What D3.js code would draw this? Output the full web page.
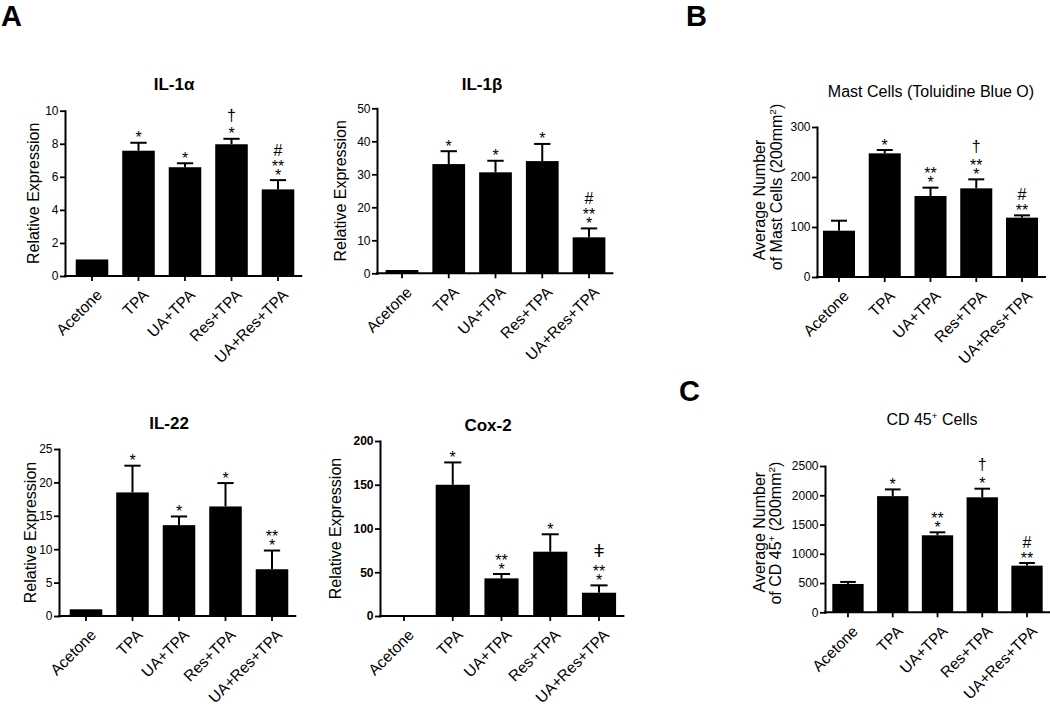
<!DOCTYPE html>
<html><head><meta charset="utf-8">
<script src="https://cdn.jsdelivr.net/npm/d3@7"></script>
<style>
body{margin:0;background:#fff}
svg{display:block}
text{font-family:"Liberation Sans",Arial,Helvetica,sans-serif;fill:#000}
</style>
</head><body>
<svg id="chart" width="1050" height="707"></svg>
<script>
// ---------- DATA ----------
const categories = ["Acetone", "TPA", "UA+TPA", "Res+TPA", "UA+Res+TPA"];

const il1aMean = [1.0, 7.58, 6.58, 7.97, 5.24];
const il1aSem  = [0, 0.48, 0.24, 0.33, 0.56];
const il1aSig  = [[], ["*"], ["*"], ["†", "*"], ["#", "**", "*"]];
const il1aTicks = [0, 2, 4, 6, 8, 10];

const il1bMean = [1.0, 33.1, 30.6, 34.0, 10.9];
const il1bSem  = [0, 3.9, 3.5, 5.2, 2.7];
const il1bSig  = [[], ["*"], ["*"], ["*"], ["#", "**", "*"]];
const il1bTicks = [0, 10, 20, 30, 40, 50];

const il22Mean = [1.0, 18.5, 13.6, 16.4, 7.0];
const il22Sem  = [0, 4.0, 1.3, 3.5, 2.8];
const il22Sig  = [[], ["*"], ["*"], ["*"], ["**", "*"]];
const il22Ticks = [0, 5, 10, 15, 20, 25];

const cox2Mean = [1.0, 150, 43, 73.5, 26.6];
const cox2Sem  = [0, 25.5, 5, 19.9, 8.4];
const cox2Sig  = [[], ["*"], ["**", "*"], ["*"], ["ǂ", "**", "*"]];
const cox2Ticks = [0, 50, 100, 150, 200];

const mastMean = [92.6, 247.3, 162, 177.3, 118.7];
const mastSem  = [20, 6.7, 16.7, 18, 4.6];
const mastSig  = [[], ["*"], ["**", "*"], ["†", "**", "*"], ["#", "**"]];
const mastTicks = [0, 100, 200, 300];

const cd45Mean = [484, 1985, 1316, 1965, 797];
const cd45Sem  = [35, 115, 51, 147, 45];
const cd45Sig  = [[], ["*"], ["**", "*"], ["†", "*"], ["#", "**"]];
const cd45Ticks = [0, 500, 1000, 1500, 2000, 2500];

// ---------- DRAW ----------
const svg = d3.select("#chart");

const symMetrics = {
  "*":  {size: 16, top: 0.716, bottom: 0.44},
  "**": {size: 16, top: 0.716, bottom: 0.44},
  "#":  {size: 16, top: 0.71, bottom: 0.0},
  "†":  {size: 16, top: 0.72, bottom: -0.19},
  "ǂ":  {size: 19, top: 0.73, bottom: -0.21}
};

function supText(sel, parts, baseSize) {
  let prevSup = false;
  parts.forEach(([t, sup]) => {
    const ts = sel.append("tspan").text(t);
    if (sup && !prevSup) ts.attr("dy", -6).style("font-size", (baseSize * 0.62) + "px");
    else if (sup) ts.style("font-size", (baseSize * 0.62) + "px");
    else if (!sup && prevSup) ts.attr("dy", 6).style("font-size", baseSize + "px");
    prevSup = sup;
  });
}

function drawPanel(p) {
  const g = svg.append("g");
  const x = d3.scaleBand().domain(categories).range([p.x0, p.x1]).paddingInner(0.3).paddingOuter(0.15);
  const yMax = p.ticks[p.ticks.length - 1];
  const y = d3.scaleLinear().domain([0, yMax]).range([p.yBottom, p.yTop]);

  // bars
  g.selectAll("rect.bar").data(categories).enter().append("rect")
    .attr("x", d => x(d))
    .attr("width", x.bandwidth())
    .attr("y", (d, i) => y(p.mean[i]))
    .attr("height", (d, i) => y(0) - y(p.mean[i]))
    .attr("fill", "#000");

  // error bars
  const cap = x.bandwidth() / 2;
  categories.forEach((c, i) => {
    if (p.sem[i] <= 0) return;
    const cx = x(c) + x.bandwidth() / 2;
    const yt = y(p.mean[i] + p.sem[i]);
    g.append("line").attr("x1", cx).attr("x2", cx).attr("y1", y(p.mean[i])).attr("y2", yt)
      .attr("stroke", "#000").attr("stroke-width", 2);
    g.append("line").attr("x1", cx - cap / 2).attr("x2", cx + cap / 2).attr("y1", yt).attr("y2", yt)
      .attr("stroke", "#000").attr("stroke-width", 2);
  });

  // significance marks
  categories.forEach((c, i) => {
    const syms = p.sig[i];
    if (!syms.length) return;
    const cx = x(c) + x.bandwidth() / 2;
    let cur = y(p.mean[i] + p.sem[i]) - 6.5;
    syms.slice().reverse().forEach(s => {
      const m = symMetrics[s];
      const base = cur + m.bottom * m.size;
      g.append("text").attr("x", cx).attr("y", base).attr("text-anchor", "middle")
        .style("font-size", m.size + "px").text(s);
      cur = base - m.top * m.size - 4.3;
    });
  });

  // y axis
  const ya = g.append("g").attr("transform", `translate(${p.axisX},0)`)
    .call(d3.axisLeft(y).tickValues(p.ticks).tickSize(5).tickSizeOuter(0).tickPadding(1.5).tickFormat(d3.format("d")));
  ya.select(".domain").attr("stroke", "#000").attr("stroke-width", 2).attr("stroke-linecap", "square");
  ya.selectAll(".tick line").attr("stroke", "#000").attr("stroke-width", 1.8);
  ya.selectAll(".tick text").style("font-size", "12px").style("font-weight", p.tickBold ? "bold" : "normal")
    .style("font-family", '"Liberation Sans",Arial,sans-serif').attr("fill", "#111");

  // x axis
  const xa = g.append("g").attr("transform", `translate(0,${p.yBottom})`)
    .call(d3.axisBottom(x).tickSize(5).tickSizeOuter(0).tickFormat(""));
  xa.select(".domain").remove();
  xa.selectAll(".tick line").attr("stroke", "#000").attr("stroke-width", 1.8);
  xa.selectAll(".tick").append("text")
    .attr("transform", "translate(11,20) rotate(-45)")
    .attr("text-anchor", "end")
    .attr("fill", "#000")
    .style("font-size", "15.5px")
    .style("font-family", '"Liberation Sans",Arial,sans-serif')
    .text(d => d);
  g.append("line").attr("x1", p.axisX).attr("x2", p.x1).attr("y1", p.yBottom).attr("y2", p.yBottom)
    .attr("stroke", "#000").attr("stroke-width", 2).attr("stroke-linecap", "square");

  // title
  const t = g.append("text").attr("x", p.titleX).attr("y", p.titleY).attr("text-anchor", "middle")
    .style("font-size", p.titleBold ? "17px" : "16px").style("font-weight", p.titleBold ? "bold" : "normal");
  supText(t, p.title, p.titleBold ? 17 : 16);

  // y label
  const yc = (p.yBottom + p.yTop) / 2;
  p.ylab.forEach((line, k) => {
    const lt = g.append("text")
      .attr("transform", `translate(${p.ylabX[k]},${yc + (p.ylabShift ? p.ylabShift[k] : 0)}) rotate(-90)`)
      .attr("text-anchor", "middle").attr("dy", "0.35em").style("font-size", "16px");
    supText(lt, line, 16);
  });
}

drawPanel({mean: il1aMean, sem: il1aSem, sig: il1aSig, ticks: il1aTicks,
  axisX: 65, x0: 68.75, x1: 301.25, yBottom: 276, yTop: 110.7,
  title: [["IL-1α", false]], titleBold: true, titleX: 174, titleY: 90,
  ylab: [[["Relative Expression", false]]], ylabX: [33]});

drawPanel({mean: il1bMean, sem: il1bSem, sig: il1bSig, ticks: il1bTicks,
  axisX: 377, x0: 378.6, x1: 612.4, yBottom: 273.3, yTop: 108.3,
  title: [["IL-1β", false]], titleBold: true, titleX: 482, titleY: 90,
  ylab: [[["Relative Expression", false]]], ylabX: [340]});

drawPanel({mean: il22Mean, sem: il22Sem, sig: il22Sig, ticks: il22Ticks,
  axisX: 59, x0: 62.75, x1: 295.25, yBottom: 616, yTop: 449,
  title: [["IL-22", false]], titleBold: true, titleX: 169, titleY: 429,
  ylab: [[["Relative Expression", false]]], ylabX: [30]});

drawPanel({mean: cox2Mean, sem: cox2Sem, sig: cox2Sig, ticks: cox2Ticks, tickBold: true,
  axisX: 380, x0: 379.6, x1: 623.4, yBottom: 616, yTop: 441,
  title: [["Cox-2", false]], titleBold: true, titleX: 488, titleY: 431,
  ylab: [[["Relative Expression", false]]], ylabX: [335]});

drawPanel({mean: mastMean, sem: mastSem, sig: mastSig, ticks: mastTicks,
  axisX: 817, x0: 816.1, x1: 1044.9, yBottom: 277, yTop: 127,
  title: [["Mast Cells (Toluidine Blue O)", false]], titleBold: false, titleX: 931, titleY: 97,
  ylab: [[["Average Number", false]], [["of Mast Cells (200mm", false], ["2", true], [")", false]]],
  ylabX: [759, 776], ylabShift: [-2, -15]});

drawPanel({mean: cd45Mean, sem: cd45Sem, sig: cd45Sig, ticks: cd45Ticks,
  axisX: 825, x0: 825.6, x1: 1049.4, yBottom: 612.3, yTop: 466,
  title: [["CD 45", false], ["+", true], [" Cells", false]], titleBold: false, titleX: 932, titleY: 425,
  ylab: [[["Average Number", false]], [["of CD 45", false], ["+", true], [" (200mm", false], ["2", true], [")", false]]],
  ylabX: [759, 775], ylabShift: [-7, -6]});

// panel letters
[["A", 1, 26], ["B", 686, 26], ["C", 679, 401]].forEach(([l, lx, ly]) => {
  svg.append("text").attr("x", lx).attr("y", ly).style("font-size", "29px").style("font-weight", "bold").text(l);
});
</script>
</body></html>
